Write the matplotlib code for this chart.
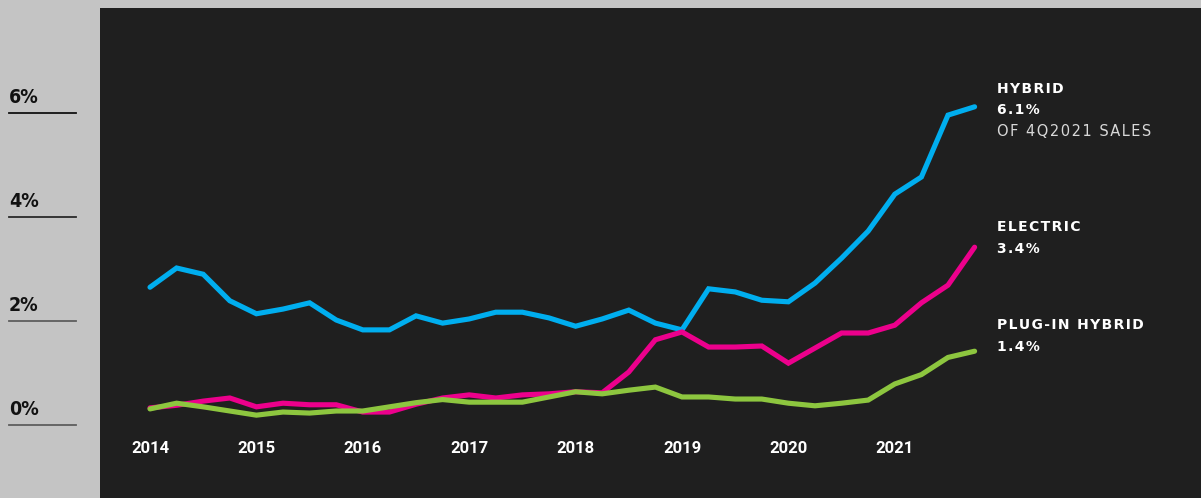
import matplotlib
matplotlib.use("Agg")
import matplotlib.pyplot as plt
import matplotlib.transforms as mtransforms
from matplotlib.lines import Line2D

# quarterly share of US new-car sales, 2014 Q1 .. 2021 Q4 (percent)
quarters = list(range(32))
hybrid = [2.63, 3.00, 2.88, 2.37, 2.12, 2.21, 2.33, 2.00, 1.81, 1.81, 2.08, 1.94,
          2.02, 2.15, 2.15, 2.04, 1.88, 2.02, 2.19, 1.94, 1.81, 2.60, 2.54, 2.38,
          2.35, 2.71, 3.19, 3.71, 4.42, 4.75, 5.94, 6.10]
electric = [0.31, 0.36, 0.44, 0.50, 0.33, 0.40, 0.37, 0.37, 0.23, 0.23, 0.38, 0.50,
            0.56, 0.50, 0.56, 0.58, 0.62, 0.60, 1.00, 1.62, 1.77, 1.48, 1.48, 1.50,
            1.17, 1.46, 1.75, 1.75, 1.90, 2.33, 2.67, 3.40]
plugin = [0.29, 0.40, 0.33, 0.25, 0.17, 0.23, 0.21, 0.25, 0.25, 0.33, 0.41, 0.47,
          0.42, 0.42, 0.42, 0.52, 0.62, 0.58, 0.65, 0.71, 0.52, 0.52, 0.48, 0.48,
          0.40, 0.35, 0.40, 0.46, 0.77, 0.95, 1.28, 1.40]

years = ["2014", "2015", "2016", "2017", "2018", "2019", "2020", "2021"]
year_pos = [0, 4, 8, 12, 16, 20, 24, 28]
ytick_vals = [0, 2, 4, 6]
ytick_labels = ["0%", "2%", "4%", "6%"]
underline_colors = ["#5e5e5e", "#5e5e5e", "#2a2a2a", "#111111"]

series = [
    (hybrid, "#00aeef", ["HYBRID", "6.1%", "OF 4Q2021 SALES"]),
    (electric, "#ec008c", ["ELECTRIC", "3.4%"]),
    (plugin, "#8dc63f", ["PLUG-IN HYBRID", "1.4%"]),
]
label_y = [[6.45, 6.04, 5.63], [3.78, 3.36], [1.90, 1.48]]


def spaced(s):
    # a little tracking, like the original's letter-spaced labels
    return "\u200a".join(s)


W, H = 1201, 498
fig = plt.figure(figsize=(W / 100, H / 100), dpi=100, facecolor="#c4c4c4")
ax = fig.add_axes([100 / W, 0, 1 - 100 / W, (H - 8) / H])
ax.set_facecolor("#1f1f1f")
for s in ax.spines.values():
    s.set_visible(False)
ax.set_xticks([])
ax.set_yticks([])

# pixel mapping: quarter i -> 150 + 26.6*i px, value v -> 424 - 52*v px
ax.set_xlim((100 - 150) / 26.6, (W - 150) / 26.6)
ax.set_ylim((424 - H) / 52, (424 - 8) / 52)

for vals, col, labels in series:
    ax.plot(quarters, vals, color=col, lw=3.7, solid_capstyle="round",
            solid_joinstyle="miter", zorder=3)

# year labels
for y, p in zip(years, year_pos):
    ax.text(p, -0.48, y, color="white", fontsize=12, fontweight="bold",
            family="Roboto", ha="center", va="center")

# y labels in the grey margin
tr = mtransforms.blended_transform_factory(fig.transFigure, ax.transData)
for v, lab, c in zip(ytick_vals, ytick_labels, underline_colors):
    fig.text(9 / W, v + 0.1, lab, transform=tr, color="#111111", fontsize=14,
             fontweight="bold", family="DejaVu Sans", fontstretch="condensed",
             ha="left", va="bottom")
    fig.add_artist(Line2D([9 / W, 76 / W], [v - 0.02, v - 0.02], transform=tr,
                          color=c, lw=1.3))

# series labels at the right
lx = (997 - 150) / 26.6
for (vals, col, labels), ys in zip(series, label_y):
    for k, (txt, yy) in enumerate(zip(labels, ys)):
        if k < 2:
            ax.text(lx, yy, spaced(txt), color="white", fontsize=10,
                    fontweight="bold", family="DejaVu Sans", ha="left", va="center")
        else:
            ax.text(lx, yy, spaced(txt), color="#d8d8d8", fontsize=10.5,
                    family="DejaVu Sans", ha="left", va="center")

fig.savefig("out.png", dpi=100, facecolor=fig.get_facecolor())
